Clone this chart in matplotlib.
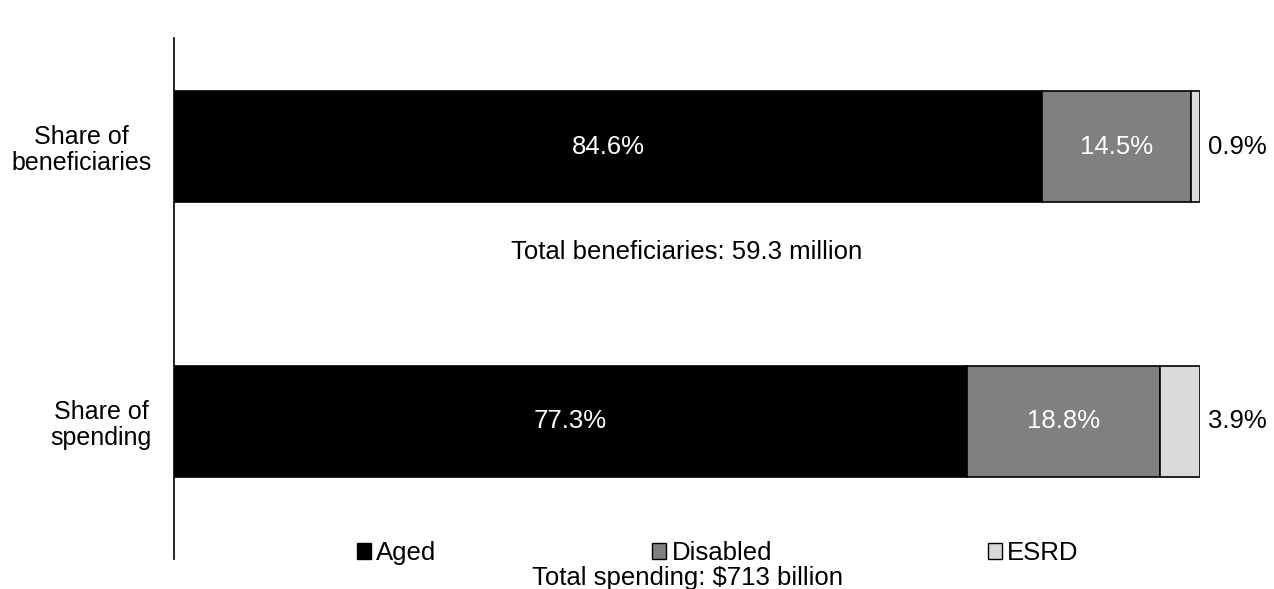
import matplotlib.pyplot as plt
from matplotlib.patches import Patch

plt.rcParams['font.family'] = ['Liberation Sans', 'DejaVu Sans']

categories = ["Share of\nbeneficiaries", "Share of\nspending"]
series = ["Aged", "Disabled", "ESRD"]
aged = [84.6, 77.3]
disabled = [14.5, 18.8]
esrd = [0.9, 3.9]
colors = ["#000000", "#808080", "#d9d9d9"]
label_colors = ["white", "white", None]
notes = ["Total beneficiaries: 59.3 million", "Total spending: $713 billion"]

FS = 18.5
W, H = 1274, 589
fig = plt.figure(figsize=(W / 100, H / 100), dpi=100)
ax = fig.add_axes([174 / W, 1 - 559 / H, (1200 - 174) / W, (559 - 38) / H])

ypos = [0, 1]
bh = 111 / 275
ax.set_ylim(1 + (559 - 421.5) / 275, -(146.5 - 38) / 275)
ax.set_xlim(0, 100)

left = [0, 0]
for name, vals, c, lc in zip(series, [aged, disabled, esrd], colors, label_colors):
    ax.barh(ypos, vals, left=left, height=bh, color=c, edgecolor='black', linewidth=1.2, label=name)
    for y, v, l in zip(ypos, vals, left):
        if lc:
            ax.text(l + v / 2, y, f"{v:.1f}%", color=lc, ha='center', va='center', fontsize=FS)
        else:
            ax.text(103.6, y, f"{v:.1f}%", color='black', ha='center', va='center', fontsize=FS, clip_on=False)
    left = [a + b for a, b in zip(left, vals)]

ax.text(50, (252 - 146.5) / 275, notes[0], ha='center', va='center', fontsize=FS)
fig.text(687 / W, 1 - 578 / H, notes[1], ha='center', va='center', fontsize=FS)

ax.set_yticks(ypos)
ax.set_yticklabels(categories, fontsize=18, multialignment='center', linespacing=1.1)
ax.tick_params(axis='y', length=0, pad=16)
ax.set_xticks([])
for s in ['top', 'right', 'bottom']:
    ax.spines[s].set_visible(False)
ax.spines['left'].set_linewidth(1.2)

handles = [Patch(facecolor=c, edgecolor='black', linewidth=1.0) for c in colors]
fig.legend(handles, series, loc='center left', bbox_to_anchor=(357 / W, 1 - 553 / H),
           ncol=3, frameon=False, fontsize=FS, handlelength=0.55, handleheight=0.55,
           handletextpad=0.2, columnspacing=8.4, borderpad=0, borderaxespad=0)

fig.savefig('out.png', dpi=100)
